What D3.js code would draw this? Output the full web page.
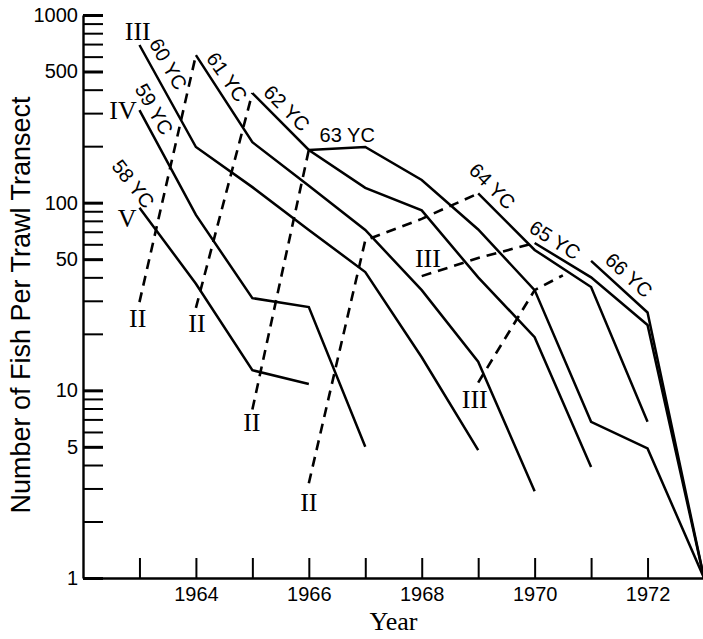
<!DOCTYPE html>
<html>
<head>
<meta charset="utf-8">
<script src="https://cdn.jsdelivr.net/npm/d3@7"></script>
<style>
    body { margin: 0; background: #fff; }
    svg { display: block; }
</style>
</head>
<body>
<div id="chart"></div>
<script>
const WIDTH = 703;
const HEIGHT = 639;
const SANS = '"Liberation Sans", Arial, Helvetica, sans-serif';
const SERIF = '"Liberation Serif", "Times New Roman", serif';

// Year classes (solid lines): first year sampled and fish per trawl transect each year after
const yearClasses = ['58 YC', '59 YC', '60 YC', '61 YC', '62 YC', '63 YC', '64 YC', '65 YC', '66 YC'];
const firstYear = [1963, 1963, 1963, 1964, 1965, 1966, 1969, 1970, 1971];
const fish58 = [94, 37, 12.8, 10.8];
const fish59 = [311, 86, 31, 27.8, 5.0];
const fish60 = [692, 198, 121, 71.5, 42.7, 15.0, 4.8];
const fish61 = [611, 210, 123, 71.5, 34.2, 14.2, 2.9];
const fish62 = [384, 191, 120, 91, 40, 19.2, 3.9];
const fish63 = [191, 198, 132, 72, 34.2, 6.8, 4.9, 1];
const fish64 = [112, 56, 35.5, 6.8];
const fish65 = [61, 40, 22.3, 1];
const fish66 = [49, 26, 1];
const series = [fish58, fish59, fish60, fish61, fish62, fish63, fish64, fish65, fish66];

// Age-class connectors (dashed lines)
const ageYears = [
    [1963, 1964],
    [1964, 1965],
    [1965, 1966],
    [1966, 1967, 1968, 1969],
    [1968, 1969, 1970],
    [1969, 1970, 1970.5],
];
const ageValues = [
    [29.5, 611],
    [27.5, 384],
    [7.9, 191],
    [3.2, 63, 82, 112],
    [40.6, 50.7, 61],
    [11, 34.2, 41],
];

// Age labels (roman numerals), anchored in data units
const ageLabels = ['III', 'IV', 'V', 'II', 'II', 'II', 'II', 'III', 'III'];
const ageLabelYear = [1962.97, 1962.71, 1962.78, 1962.97, 1964.02, 1964.99, 1966.0, 1968.11, 1968.94];
const ageLabelValue = [821, 311, 82, 24, 22.8, 6.7, 2.51, 50.7, 8.9];

// Year-class labels, anchored in data units, with text angle
const ycLabelYear = [1962.89, 1963.26, 1963.51, 1964.55, 1965.61, 1966.68, 1969.25, 1970.36, 1971.67];
const ycLabelValue = [126, 315, 548, 467, 319, 229, 122.5, 63.2, 41.1];
const ycLabelAngle = [52, 60, 60, 55, 45, 0, 45, 32, 42];

// Axes ticks
const tickYears = [1963, 1964, 1965, 1966, 1967, 1968, 1969, 1970, 1971, 1972, 1973];
const xLabels = [1964, 1966, 1968, 1970, 1972];
const yLabels = [1, 5, 10, 50, 100, 500, 1000];

const svg = d3.select('#chart')
    .append('svg')
    .attr('width', WIDTH)
    .attr('height', HEIGHT);

const x = d3.scaleLinear().domain([1962, 1973]).range([83, 704]);
const y = d3.scaleLog().domain([1, 1000]).range([578, 15]);

// Y axis
const yAxis = svg.append('g')
    .attr('transform', `translate(${x(1962)},0)`)
    .call(d3.axisLeft(y)
        .tickValues(y.ticks())
        .tickSizeInner(-20)
        .tickSizeOuter(0)
        .tickPadding(5)
        .tickFormat(d => yLabels.includes(d) ? d : ''));
yAxis.select('.domain').attr('stroke-width', 2.4);
yAxis.selectAll('.tick line')
    .attr('stroke-width', d => yLabels.includes(d) ? 3 : 2);
yAxis.selectAll('text')
    .style('font-family', SANS)
    .style('font-size', '20px')
    .attr('fill', '#000');

// X axis
const xAxis = svg.append('g')
    .attr('transform', `translate(0,${y(1)})`)
    .call(d3.axisBottom(x)
        .tickValues(tickYears)
        .tickSizeInner(-20)
        .tickSizeOuter(0)
        .tickPadding(9)
        .tickFormat(d => xLabels.includes(d) ? d : ''));
xAxis.select('.domain').attr('stroke-width', 2.4);
xAxis.selectAll('.tick line').attr('stroke-width', 2);
xAxis.selectAll('text')
    .style('font-family', SANS)
    .style('font-size', '20px')
    .attr('fill', '#000');

// Axis titles
svg.append('text')
    .attr('x', x(1967.5))
    .attr('y', HEIGHT - 9)
    .attr('text-anchor', 'middle')
    .style('font-family', SERIF)
    .style('font-size', '26px')
    .text('Year');

svg.append('text')
    .attr('transform', 'translate(30,305) rotate(-90)')
    .attr('text-anchor', 'middle')
    .style('font-family', SANS)
    .style('font-size', '27px')
    .text('Number of Fish Per Trawl Transect');

const line = d3.line()
    .x(d => x(d[0]))
    .y(d => y(d[1]));

// Dashed age connectors
ageYears.forEach((years, i) => {
    const pts = years.map((yr, j) => [yr, ageValues[i][j]]);
    svg.append('path')
        .datum(pts)
        .attr('d', line)
        .style('fill', 'none')
        .style('stroke', '#000')
        .style('stroke-width', 2.6)
        .style('stroke-dasharray', '10,7');
});

// Year class lines
series.forEach((vals, i) => {
    const pts = vals.map((v, j) => [firstYear[i] + j, v]);
    svg.append('path')
        .datum(pts)
        .attr('class', 'line')
        .attr('d', line)
        .style('fill', 'none')
        .style('stroke', '#000')
        .style('stroke-width', 2.5)
        .style('stroke-linejoin', 'miter');
});

// Year class labels
yearClasses.forEach((name, i) => {
    const px = x(ycLabelYear[i]);
    const py = y(ycLabelValue[i]);
    svg.append('text')
        .attr('transform', `translate(${px},${py}) rotate(${ycLabelAngle[i]})`)
        .attr('text-anchor', 'middle')
        .attr('dominant-baseline', 'central')
        .style('font-family', SANS)
        .style('font-size', '20px')
        .text(name);
});

// Age labels
ageLabels.forEach((name, i) => {
    svg.append('text')
        .attr('x', x(ageLabelYear[i]))
        .attr('y', y(ageLabelValue[i]))
        .attr('text-anchor', 'middle')
        .attr('dominant-baseline', 'central')
        .style('font-family', SERIF)
        .style('font-size', '26px')
        .text(name);
});
</script>
</body>
</html>
